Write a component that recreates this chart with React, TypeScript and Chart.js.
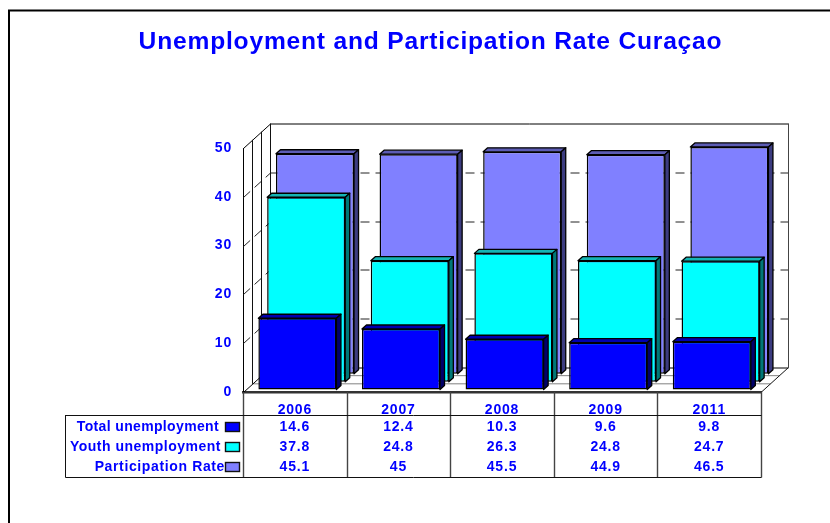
import React, { useEffect, useRef } from "react";
import { Chart, registerables } from "chart.js";

Chart.register(...registerables);

const titleText = "Unemployment and Participation Rate Curaçao";
const categories = ["2006", "2007", "2008", "2009", "2011"];
const totalUnemployment = [14.6, 12.4, 10.3, 9.6, 9.8];
const youthUnemployment = [37.8, 24.8, 26.3, 24.8, 24.7];
const participationRate = [45.1, 45, 45.5, 44.9, 46.5];
const seriesNames = ["Total unemployment", "Youth unemployment", "Participation Rate"];
const seriesValues = [totalUnemployment, youthUnemployment, participationRate];

const FONT = '"Liberation Sans", Arial, sans-serif';
const BLUE = "#0000FF";
const faces = [
  { front: "#0000FF", top: "#0000AE", side: "#00006A", shiftX: 2.6, shiftY: -2.5 },
  { front: "#00FFFF", top: "#14B4B4", side: "#007878", shiftX: 11.4, shiftY: -10.3 },
  { front: "#8080FF", top: "#5C5CB4", side: "#3C3C80", shiftX: 20.2, shiftY: -18.2 },
];
const barDepthX = 4.5;
const barDepthY = -4;
const wallDepthX = 27;
const wallDepthY = -24.5;
const legendX = [219, 221, 225];
const legendSpacing = ["0.35px", "0.5px", "0.63px"];

function line(ctx: CanvasRenderingContext2D, x1: number, y1: number, x2: number, y2: number) {
  ctx.beginPath();
  ctx.moveTo(x1, y1);
  ctx.lineTo(x2, y2);
  ctx.stroke();
}

const threeD = {
  id: "threeD",
  beforeDraw(chart: any) {
    const ctx = chart.ctx;
    ctx.letterSpacing = "0.8px";
    ctx.save();
    ctx.strokeStyle = "#000";
    ctx.lineWidth = 2;
    ctx.strokeRect(9, 10.5, 900, 600);
    ctx.restore();
  },
  beforeDatasetsDraw(chart: any) {
    const ctx = chart.ctx;
    const { left, right, top, bottom } = chart.chartArea;
    const y = chart.scales.y;
    const L = left + 0.5;
    const R = right + 0.5;
    const dx = wallDepthX;
    const dy = wallDepthY;
    ctx.save();
    ctx.lineWidth = 1;
    // floor lines
    ctx.strokeStyle = "#808080";
    for (const f of [1 / 3, 2 / 3]) {
      line(ctx, L + dx * f, bottom + dy * f, R + dx * f, bottom + dy * f);
    }
    // wall gridlines
    y.ticks.forEach((t: any) => {
      const py = Math.round(y.getPixelForValue(t.value)) + 0.5;
      ctx.strokeStyle = "#222";
      if (t.value > 0 && t.value < 50) {
        ctx.setLineDash([9, 6]);
        line(ctx, L, py, L + dx, py + dy);
        line(ctx, L + dx, py + dy, R + dx, py + dy);
        ctx.setLineDash([]);
      } else {
        ctx.strokeStyle = "#000";
        line(ctx, L, py, L + dx, py + dy);
        line(ctx, L + dx, py + dy, R + dx, py + dy);
      }
    });
    // depth verticals
    ctx.strokeStyle = "#111";
    for (const f of [1 / 3, 2 / 3, 1]) {
      const x = Math.round(L + dx * f - 0.5) + 0.5;
      line(ctx, x, top + dy * f, x, bottom + dy * f);
    }
    ctx.strokeStyle = "#444";
    line(ctx, R + dx, top + dy, R + dx, bottom + dy);
    ctx.strokeStyle = "#111";
    line(ctx, R, bottom, R + dx, bottom + dy);
    ctx.restore();
  },
  beforeDatasetDraw(chart: any, args: any) {
    const ctx = chart.ctx;
    const face = faces[args.index];
    ctx.save();
    ctx.translate(face.shiftX, face.shiftY);
    ctx.lineWidth = 1.3;
    ctx.strokeStyle = "#000";
    ctx.lineJoin = "round";
    args.meta.data.forEach((el: any) => {
      const { x, y, base, width } = el.getProps(["x", "y", "base", "width"], true);
      const l = x - width / 2;
      const r = x + width / 2;
      ctx.fillStyle = face.top;
      ctx.beginPath();
      ctx.moveTo(l, y);
      ctx.lineTo(l + barDepthX, y + barDepthY);
      ctx.lineTo(r + barDepthX, y + barDepthY);
      ctx.lineTo(r, y);
      ctx.closePath();
      ctx.fill();
      ctx.stroke();
      ctx.fillStyle = face.side;
      ctx.beginPath();
      ctx.moveTo(r, y);
      ctx.lineTo(r + barDepthX, y + barDepthY);
      ctx.lineTo(r + barDepthX, base + barDepthY);
      ctx.lineTo(r, base);
      ctx.closePath();
      ctx.fill();
      ctx.stroke();
    });
  },
  afterDatasetDraw(chart: any) {
    chart.ctx.restore();
  },
  afterDraw(chart: any) {
    const ctx = chart.ctx;
    const { left, right, bottom } = chart.chartArea;
    const x = chart.scales.x;
    const L = left + 0.5;
    const R = right + 0.5;
    const headerBottom = bottom + 23;
    const tableBottom = bottom + 85;
    const tableLeft = 65.5;
    const rowY = [bottom + 35, bottom + 55, bottom + 75];
    ctx.save();
    ctx.lineWidth = 1.4;
    ctx.strokeStyle = "#444";
    line(ctx, L, bottom, L, tableBottom + 0.5);
    line(ctx, R, bottom, R, tableBottom + 0.5);
    categories.forEach((_, i) => {
      if (i === 0) return;
      const px = Math.round((x.getPixelForTick(i - 1) + x.getPixelForTick(i)) / 2) + 0.5;
      line(ctx, px, bottom, px, tableBottom + 0.5);
    });
    ctx.lineWidth = 1;
    ctx.strokeStyle = "#111";
    line(ctx, tableLeft, headerBottom + 0.5, R, headerBottom + 0.5);
    line(ctx, tableLeft, tableBottom + 0.5, R, tableBottom + 0.5);
    line(ctx, tableLeft, headerBottom, tableLeft, tableBottom + 0.5);

    ctx.font = `bold 14px ${FONT}`;
    ctx.fillStyle = BLUE;
    ctx.textBaseline = "middle";
    seriesNames.forEach((name, r) => {
      ctx.textAlign = "right";
      ctx.fillStyle = BLUE;
      ctx.letterSpacing = legendSpacing[r];
      ctx.fillText(name, legendX[r], rowY[r]);
      ctx.letterSpacing = "0.8px";
      ctx.fillStyle = faces[r].front;
      ctx.strokeStyle = "#111";
      ctx.lineWidth = 1.4;
      ctx.fillRect(225.5, rowY[r] - 4.5, 14, 9);
      ctx.strokeRect(225.5, rowY[r] - 4.5, 14, 9);
      ctx.fillStyle = BLUE;
      ctx.textAlign = "center";
      seriesValues[r].forEach((v, i) => {
        ctx.fillText(String(v), x.getPixelForTick(i), rowY[r]);
      });
    });
    ctx.restore();
  },
};

export default function App() {
  const ref = useRef<HTMLCanvasElement>(null);
  useEffect(() => {
    const chart = new Chart(ref.current as HTMLCanvasElement, {
      type: "bar",
      data: {
        labels: categories,
        datasets: seriesNames.map((name, i) => ({
          label: name,
          data: seriesValues[i],
          backgroundColor: faces[i].front,
          borderColor: "#000",
          borderWidth: 1.5,
          borderSkipped: false,
          clip: false as any,
          grouped: false,
          barPercentage: 1,
          categoryPercentage: 0.7536,
        })),
      },
      options: {
        animation: false,
        responsive: false,
        layout: {
          autoPadding: false,
          padding: { left: 100, right: 69, top: 0, bottom: 0 },
        },
        plugins: {
          legend: { display: false },
          tooltip: { enabled: false },
          title: {
            display: true,
            text: titleText,
            color: BLUE,
            font: { family: FONT, size: 24.6, weight: "bold" },
            padding: { top: 27.2, bottom: 91.3 },
          },
        },
        scales: {
          x: {
            afterFit: (s: any) => {
              s.height = 131;
            },
            grid: { display: false, drawTicks: false },
            border: { display: true, color: "#333", width: 2.5 },
            ticks: {
              color: BLUE,
              padding: 10,
              font: { family: FONT, size: 14, weight: "bold" },
              maxRotation: 0,
            },
          },
          y: {
            min: 0,
            max: 50,
            afterFit: (s: any) => {
              s.width = 143;
            },
            grid: { display: false, drawTicks: false },
            border: { display: true, color: "#000", width: 1 },
            ticks: {
              stepSize: 10,
              color: BLUE,
              padding: 11,
              font: { family: FONT, size: 14, weight: "bold" },
            },
          },
        },
      },
      plugins: [threeD],
    } as any);
    return () => chart.destroy();
  }, []);
  return (
    <div style={{ position: "absolute", left: 0, top: 0, width: 830, height: 523, overflow: "hidden", background: "#fff" }}>
      <canvas ref={ref} width={830} height={523} style={{ display: "block" }} />
    </div>
  );
}
